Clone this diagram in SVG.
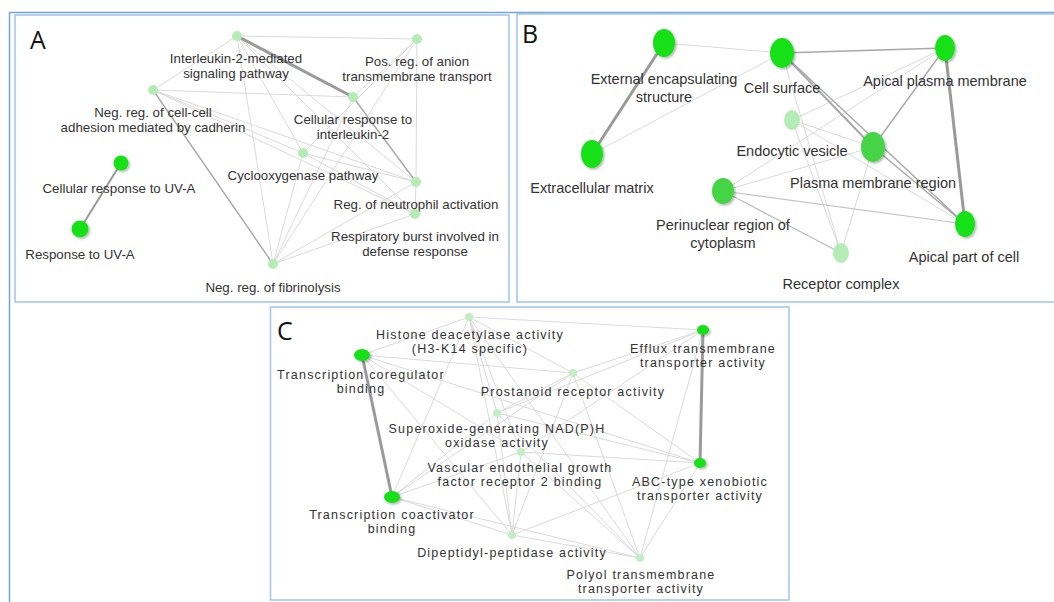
<svg xmlns="http://www.w3.org/2000/svg" width="1054" height="602" viewBox="0 0 1054 602">
<style>
.frame{fill:none;stroke:#9fc4ec;stroke-width:1.5}
.outer{fill:none;stroke:#6ea6dd;stroke-width:1.5}
.lbl{font-family:"Liberation Sans",Arial,sans-serif;fill:#333;text-anchor:middle}
.la{font-size:13.3px}
.lb{font-size:14.5px}
.lc{font-size:12.5px;letter-spacing:1.2px}
.pl{font-family:"Open Sans","Liberation Sans",sans-serif;font-size:25px;fill:#111}
.et{stroke:#9a9a9a;stroke-width:3;fill:none}
.em{stroke:#a8a8a8;stroke-width:1.4;fill:none}
.el{stroke:#dadada;stroke-width:1;fill:none}
.bright{fill:#14e014}
.mid{fill:#45d445}
.pale{fill:#b5ecb5}
.pale2{fill:#c2efc2}
</style>
<defs>
<filter id="sh" x="-50%" y="-50%" width="200%" height="200%">
<feDropShadow dx="1.5" dy="1.5" stdDeviation="1.2" flood-color="#000" flood-opacity="0.3"/>
</filter>
</defs>
<rect width="1054" height="602" fill="#fff"/>
<g id="frames">
<path class="outer" d="M9.5,602 V12.5 H1054"/>
<rect class="frame" x="15" y="15" width="494" height="287"/>
<rect class="frame" x="517" y="14" width="545" height="288"/>
<rect class="frame" x="270.5" y="307" width="518.5" height="293"/>
</g>
<g id="connectors">
<line class="el" x1="237" y1="36" x2="417" y2="39"/>
<line class="el" x1="237" y1="36" x2="153" y2="90"/>
<line class="el" x1="237" y1="36" x2="303" y2="153"/>
<line class="el" x1="237" y1="36" x2="273" y2="264"/>
<line class="el" x1="237" y1="36" x2="416" y2="182"/>
<line class="el" x1="237" y1="36" x2="415" y2="214"/>
<line class="el" x1="153" y1="90" x2="353" y2="97"/>
<line class="el" x1="153" y1="90" x2="303" y2="153"/>
<line class="el" x1="153" y1="90" x2="416" y2="182"/>
<line class="el" x1="153" y1="90" x2="415" y2="214"/>
<line class="el" x1="417" y1="39" x2="416" y2="182"/>
<line class="el" x1="417" y1="39" x2="353" y2="97"/>
<line class="el" x1="417" y1="39" x2="303" y2="153"/>
<line class="el" x1="417" y1="39" x2="273" y2="264"/>
<line class="el" x1="353" y1="97" x2="273" y2="264"/>
<line class="el" x1="303" y1="153" x2="416" y2="182"/>
<line class="el" x1="303" y1="153" x2="415" y2="214"/>
<line class="el" x1="303" y1="153" x2="273" y2="264"/>
<line class="el" x1="273" y1="264" x2="415" y2="214"/>
<line class="el" x1="273" y1="264" x2="416" y2="182"/>
<line class="el" x1="416" y1="182" x2="415" y2="214"/>
<line class="em" x1="153" y1="90" x2="273" y2="264"/>
<line class="em" x1="353" y1="97" x2="416" y2="182"/>
<line class="et" x1="237" y1="36" x2="353" y2="97"/>
<line class="em" x1="121" y1="163" x2="80" y2="229" style="stroke-width:2;stroke:#999"/>
<line class="el" x1="664" y1="43" x2="782" y2="53"/>
<line class="el" x1="592" y1="154" x2="782" y2="53"/>
<line class="el" x1="792" y1="120" x2="945" y2="48"/>
<line class="el" x1="792" y1="120" x2="965" y2="224"/>
<line class="el" x1="792" y1="120" x2="841" y2="253"/>
<line class="el" x1="792" y1="120" x2="873" y2="147"/>
<line class="el" x1="782" y1="53" x2="841" y2="253"/>
<line class="el" x1="723" y1="191" x2="873" y2="147"/>
<line class="el" x1="723" y1="191" x2="945" y2="48"/>
<line class="el" x1="873" y1="147" x2="841" y2="253"/>
<line class="em" x1="723" y1="191" x2="965" y2="224" style="stroke:#c4c4c4;stroke-width:1.2"/>
<line class="em" x1="723" y1="191" x2="841" y2="253" style="stroke:#bdbdbd;stroke-width:1.2"/>
<line class="em" x1="782" y1="53" x2="945" y2="48"/>
<line class="em" x1="782" y1="53" x2="873" y2="147" style="stroke-width:2"/>
<line class="em" x1="782" y1="53" x2="965" y2="224"/>
<line class="em" x1="945" y1="48" x2="873" y2="147"/>
<line class="em" x1="873" y1="147" x2="965" y2="224"/>
<line class="et" x1="664" y1="43" x2="592" y2="154"/>
<line class="et" x1="945" y1="48" x2="965" y2="224"/>
<line class="el" x1="469" y1="317" x2="703" y2="330"/>
<line class="el" x1="469" y1="317" x2="362" y2="355"/>
<line class="el" x1="469" y1="317" x2="573" y2="373"/>
<line class="el" x1="469" y1="317" x2="497" y2="413"/>
<line class="el" x1="469" y1="317" x2="521" y2="452"/>
<line class="el" x1="469" y1="317" x2="512" y2="535"/>
<line class="el" x1="469" y1="317" x2="640" y2="558"/>
<line class="el" x1="469" y1="317" x2="392" y2="497"/>
<line class="el" x1="362" y1="355" x2="573" y2="373"/>
<line class="el" x1="362" y1="355" x2="521" y2="452"/>
<line class="el" x1="362" y1="355" x2="512" y2="535"/>
<line class="el" x1="362" y1="355" x2="700" y2="463"/>
<line class="el" x1="703" y1="330" x2="573" y2="373"/>
<line class="el" x1="703" y1="330" x2="497" y2="413"/>
<line class="el" x1="703" y1="330" x2="521" y2="452"/>
<line class="el" x1="703" y1="330" x2="640" y2="558"/>
<line class="el" x1="573" y1="373" x2="392" y2="497"/>
<line class="el" x1="573" y1="373" x2="512" y2="535"/>
<line class="el" x1="573" y1="373" x2="640" y2="558"/>
<line class="el" x1="573" y1="373" x2="700" y2="463"/>
<line class="el" x1="573" y1="373" x2="497" y2="413"/>
<line class="el" x1="497" y1="413" x2="392" y2="497"/>
<line class="el" x1="497" y1="413" x2="512" y2="535"/>
<line class="el" x1="497" y1="413" x2="640" y2="558"/>
<line class="el" x1="497" y1="413" x2="700" y2="463"/>
<line class="el" x1="521" y1="452" x2="392" y2="497"/>
<line class="el" x1="521" y1="452" x2="700" y2="463"/>
<line class="el" x1="521" y1="452" x2="512" y2="535"/>
<line class="el" x1="521" y1="452" x2="640" y2="558"/>
<line class="el" x1="392" y1="497" x2="512" y2="535"/>
<line class="el" x1="392" y1="497" x2="640" y2="558"/>
<line class="el" x1="512" y1="535" x2="640" y2="558"/>
<line class="el" x1="512" y1="535" x2="700" y2="463"/>
<line class="el" x1="640" y1="558" x2="700" y2="463"/>
<line class="et" x1="362" y1="355" x2="392" y2="497"/>
<line class="et" x1="703" y1="330" x2="700" y2="463"/>
</g>
<text class="pl" x="30" y="49">A</text>
<text class="pl" x="522" y="43">B</text>
<text class="pl" x="277" y="340">C</text>
<g id="a-il2-mediated"><circle class="pale" cx="237" cy="36" r="5"/><text class="lbl la" x="236" y="63">Interleukin-2-mediated<tspan x="236" dy="15">signaling pathway</tspan></text></g>
<g id="a-pos-reg-anion"><circle class="pale" cx="417" cy="39" r="5"/><text class="lbl la" x="417" y="66">Pos. reg. of anion<tspan x="417" dy="15">transmembrane transport</tspan></text></g>
<g id="a-neg-reg-cell-cell"><circle class="pale" cx="153" cy="90" r="5"/><text class="lbl la" x="153" y="117">Neg. reg. of cell-cell<tspan x="153" dy="15">adhesion mediated by cadherin</tspan></text></g>
<g id="a-cell-resp-il2"><circle class="pale" cx="353" cy="97" r="5"/><text class="lbl la" x="353" y="124">Cellular response to<tspan x="353" dy="15">interleukin-2</tspan></text></g>
<g id="a-cyclooxygenase"><circle class="pale" cx="303" cy="153" r="5"/><text class="lbl la" x="303" y="180">Cyclooxygenase pathway</text></g>
<g id="a-neutrophil"><circle class="pale" cx="416" cy="182" r="5"/><text class="lbl la" x="416" y="209">Reg. of neutrophil activation</text></g>
<g id="a-respiratory"><circle class="pale" cx="415" cy="214" r="5"/><text class="lbl la" x="415" y="241">Respiratory burst involved in<tspan x="415" dy="15">defense response</tspan></text></g>
<g id="a-fibrinolysis"><circle class="pale" cx="273" cy="264" r="5"/><text class="lbl la" x="273" y="292">Neg. reg. of fibrinolysis</text></g>
<g id="a-cell-uva"><circle class="bright" cx="121" cy="163" r="7.5" filter="url(#sh)"/><text class="lbl la" x="119" y="193">Cellular response to UV-A</text></g>
<g id="a-uva"><circle class="bright" cx="80" cy="229" r="8.5" filter="url(#sh)"/><text class="lbl la" x="80" y="259">Response to UV-A</text></g>
<g id="b-external"><ellipse class="bright" cx="664" cy="43" rx="11" ry="14" filter="url(#sh)"/><text class="lbl lb" x="664" y="84">External encapsulating<tspan x="664" dy="18">structure</tspan></text></g>
<g id="b-cell-surface"><ellipse class="bright" cx="782" cy="53" rx="12" ry="15" filter="url(#sh)"/><text class="lbl lb" x="782" y="93">Cell surface</text></g>
<g id="b-apical-pm"><ellipse class="bright" cx="945" cy="48" rx="10" ry="13" filter="url(#sh)"/><text class="lbl lb" x="945" y="86">Apical plasma membrane</text></g>
<g id="b-ecm"><ellipse class="bright" cx="592" cy="154" rx="11" ry="14" filter="url(#sh)"/><text class="lbl lb" x="592" y="193">Extracellular matrix</text></g>
<g id="b-endocytic"><ellipse class="pale" cx="792" cy="120" rx="8" ry="10"/><text class="lbl lb" x="792" y="156">Endocytic vesicle</text></g>
<g id="b-pm-region"><ellipse class="mid" cx="873" cy="147" rx="12" ry="15" filter="url(#sh)"/><text class="lbl lb" x="873" y="188">Plasma membrane region</text></g>
<g id="b-perinuclear"><ellipse class="mid" cx="723" cy="191" rx="11" ry="13" filter="url(#sh)"/><text class="lbl lb" x="723" y="230">Perinuclear region of<tspan x="723" dy="18">cytoplasm</tspan></text></g>
<g id="b-apical-part"><ellipse class="bright" cx="965" cy="224" rx="10" ry="13" filter="url(#sh)"/><text class="lbl lb" x="964" y="262">Apical part of cell</text></g>
<g id="b-receptor"><ellipse class="pale" cx="841" cy="253" rx="8" ry="10"/><text class="lbl lb" x="841" y="289">Receptor complex</text></g>
<g id="c-histone"><circle class="pale2" cx="469" cy="317" r="4"/><text class="lbl lc" x="470" y="338.5">Histone deacetylase activity<tspan x="470" dy="14.2">(H3-K14 specific)</tspan></text></g>
<g id="c-efflux"><ellipse class="bright" cx="703" cy="330" rx="6" ry="5" filter="url(#sh)"/><text class="lbl lc" x="703" y="353">Efflux transmembrane<tspan x="703" dy="14.2">transporter activity</tspan></text></g>
<g id="c-coregulator"><ellipse class="bright" cx="362" cy="355" rx="8" ry="6" filter="url(#sh)"/><text class="lbl lc" x="361" y="379">Transcription coregulator<tspan x="361" dy="14.2">binding</tspan></text></g>
<g id="c-prostanoid"><circle class="pale2" cx="573" cy="373" r="4"/><text class="lbl lc" x="573" y="396">Prostanoid receptor activity</text></g>
<g id="c-superoxide"><circle class="pale2" cx="497" cy="413" r="4"/><text class="lbl lc" x="497" y="433">Superoxide-generating NAD(P)H<tspan x="497" dy="14.2">oxidase activity</tspan></text></g>
<g id="c-vegfr2"><circle class="pale2" cx="521" cy="452" r="4"/><text class="lbl lc" x="520" y="472">Vascular endothelial growth<tspan x="520" dy="14.2">factor receptor 2 binding</tspan></text></g>
<g id="c-abc"><ellipse class="bright" cx="700" cy="463" rx="6" ry="5" filter="url(#sh)"/><text class="lbl lc" x="700" y="486">ABC-type xenobiotic<tspan x="700" dy="14.2">transporter activity</tspan></text></g>
<g id="c-coactivator"><ellipse class="bright" cx="392" cy="497" rx="8" ry="6" filter="url(#sh)"/><text class="lbl lc" x="392" y="519">Transcription coactivator<tspan x="392" dy="14.2">binding</tspan></text></g>
<g id="c-dipeptidyl"><circle class="pale2" cx="512" cy="535" r="4"/><text class="lbl lc" x="512" y="557">Dipeptidyl-peptidase activity</text></g>
<g id="c-polyol"><circle class="pale2" cx="640" cy="558" r="4"/><text class="lbl lc" x="641" y="579">Polyol transmembrane<tspan x="641" dy="14.2">transporter activity</tspan></text></g>
</svg>
